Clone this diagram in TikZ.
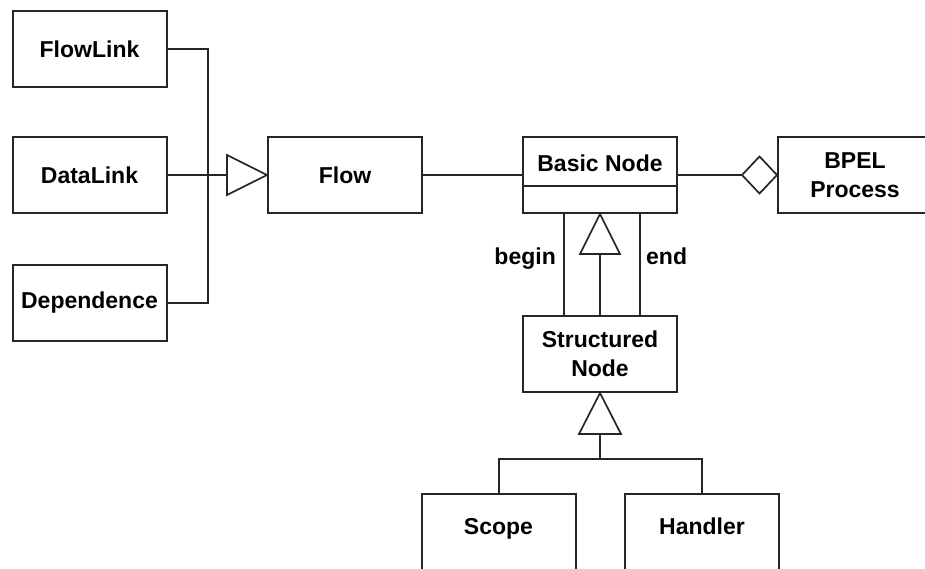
\documentclass[tikz,border=0pt]{standalone}
\usepackage{fontspec}
\setmainfont{Liberation Sans}
\usetikzlibrary{calc}
\begin{document}
\begin{tikzpicture}[x=1pt,y=-1pt,
  box/.style={draw=black!85, line width=2pt, fill=white, minimum width=154pt, minimum height=76pt, inner sep=0pt, font=\bfseries\fontsize{23}{29}\selectfont, align=center},
  txt/.style={inner sep=0pt, font=\bfseries\fontsize{23}{29}\selectfont, align=center},
  conn/.style={draw=black!85, line width=2pt},
  hollow/.style={draw=black!85, line width=1.7pt, fill=white, line join=miter}]
\fill[white] (0,0) rectangle (925,569);
\useasboundingbox (0,0) rectangle (925,569);

% left boxes
\node[box] (FL) at (89.5,49.5) {FlowLink};
\node[box] (DL) at (89.5,175) {DataLink};
\node[box] (DP) at (89.5,303) {Dependence};

% Flow
\node[box] (FW) at (345,175) {Flow};
% Basic Node
\node[box] (BN) at (600,175) {};
\node[txt] (BNt) at (600,163) {Basic Node};
\coordinate (sep) at (0,186);
\draw[conn] (BN.west |- sep) -- (BN.east |- sep);
% BPEL
\node[box] (BP) at (855,175) {BPEL\\Process};
% Structured
\node[box] (SN) at (600,354) {Structured\\Node};
% Scope / Handler
\node[box, minimum height=90pt] (SC) at (498.5,539) {};
\node[txt, anchor=base] (SCt) at (498.5,534) {Scope};
\node[box, minimum height=90pt] (HD) at (702,539) {};
\node[txt, anchor=base] (HDt) at (702,534) {Handler};

% Generalisation to Flow
\coordinate (J) at (208,175);
\coordinate (TB) at ($(FW.west)+(-40,0)$);
\draw[conn] (FL.east) -| (J);
\draw[conn] (DP.east) -| (J);
\draw[conn] (DL.east) -- (TB);
\draw[hollow] (FW.west) -- ++(-40,-20) -- ++(0,40) -- cycle;

% Flow -- Basic Node
\draw[conn] (FW.east) -- (BN.west);

% aggregation Basic Node -- BPEL
\draw[conn] (BN.east) -- ++(66,0) coordinate (DM);
\draw[hollow] (BP.west) -- ++(-17.5,-18.5) -- ++(-17.5,18.5) -- ++(17.5,18.5) -- cycle;

% begin / end
\draw[conn] ([xshift=-36pt]BN.south) -- ([xshift=-36pt]SN.north);
\draw[conn] ([xshift=40pt]BN.south) -- ([xshift=40pt]SN.north);
\draw[conn] (SN.north) -- ([yshift=-40pt]BN.south);
\draw[hollow] (BN.south) -- ++(-20,40) -- ++(40,0) -- cycle;
\node[txt, anchor=base east] (lb) at (556,264) {begin};
\node[txt, anchor=base west] (le) at (646,264) {end};

% Generalisation to Structured Node
\coordinate (bar) at (600,459);
\draw[conn] (SC.north) |- (HD.north |- bar) -- (HD.north);
\draw[conn] (bar) -- ++(0,-26);
\draw[hollow] (SN.south) -- ++(-21,41) -- ++(42,0) -- cycle;
\end{tikzpicture}
\end{document}
